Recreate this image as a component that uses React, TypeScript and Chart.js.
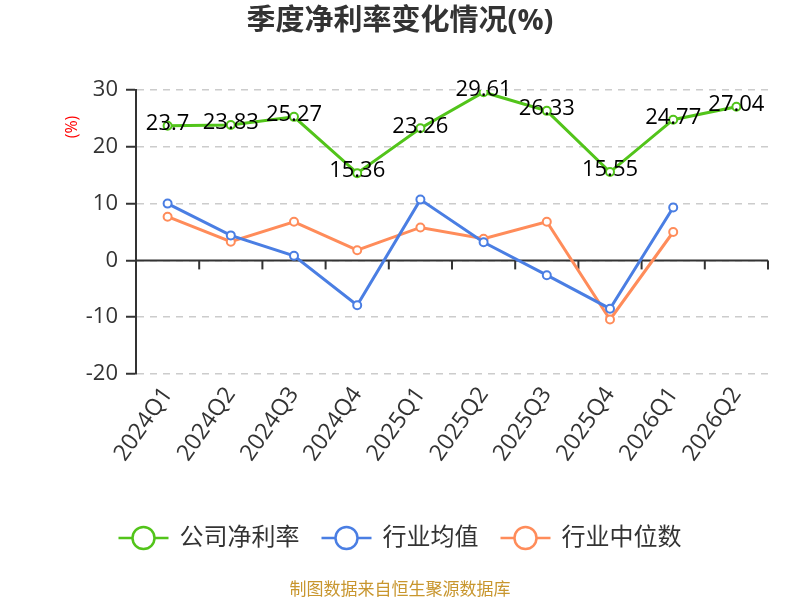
import React, { useEffect, useRef } from "react";
import { Chart, registerables } from "chart.js";

Chart.register(...registerables);

const categories = ["2024Q1", "2024Q2", "2024Q3", "2024Q4", "2025Q1", "2025Q2", "2025Q3", "2025Q4", "2026Q1", "2026Q2"];
const companyNetMargin = [23.7, 23.83, 25.27, 15.36, 23.26, 29.61, 26.33, 15.55, 24.77, 27.04];
const industryMean = [10.0, 4.4, 0.8, -7.9, 10.7, 3.2, -2.6, -8.5, 9.3, null];
const industryMedian = [7.7, 3.3, 6.8, 1.8, 5.8, 3.8, 6.8, -10.4, 5.0, null];
const seriesNames = ["公司净利率", "行业均值", "行业中位数"];
const seriesColors = ["#52c41a", "#4a7ee3", "#ff8c5a"];
const yTicks = [-20, -10, 0, 10, 20, 30];
const titleText = "季度净利率变化情况(%)";
const yTitle = "(%)";
const footerText = "制图数据来自恒生聚源数据库";

const FONT = "'Open Sans', 'Noto Sans CJK SC', sans-serif";

const customPlugin = {
  id: "customDraw",
  beforeDatasetsDraw(chart: any) {
    const { ctx, chartArea, scales } = chart;
    const x = scales.x;
    const y = scales.y;
    const y0 = y.getPixelForValue(0);
    ctx.save();
    ctx.strokeStyle = "#333";
    ctx.lineWidth = 2;
    ctx.beginPath();
    ctx.moveTo(chartArea.left, y0);
    ctx.lineTo(chartArea.right, y0);
    ctx.stroke();
    const step = x.getPixelForValue(1) - x.getPixelForValue(0);
    for (let i = 0; i < categories.length; i++) {
      const bx = x.getPixelForValue(i) + step / 2;
      ctx.beginPath();
      ctx.moveTo(bx, y0);
      ctx.lineTo(bx, y0 + 9);
      ctx.stroke();
    }
    ctx.restore();
  },
  afterDatasetsDraw(chart: any) {
    const { ctx } = chart;
    const meta = chart.getDatasetMeta(0);
    ctx.save();
    ctx.font = `22px ${FONT}`;
    ctx.fillStyle = "#000";
    ctx.textAlign = "center";
    ctx.textBaseline = "middle";
    meta.data.forEach((pt: any, i: number) => {
      ctx.fillText(String(companyNetMargin[i]), pt.x, pt.y - 2);
    });
    ctx.restore();
  },
  afterDraw(chart: any) {
    const { ctx, width } = chart;
    ctx.save();
    // title
    ctx.font = `bold 29px ${FONT}`;
    ctx.fillStyle = "#333";
    ctx.textAlign = "center";
    ctx.textBaseline = "middle";
    ctx.fillText(titleText, width / 2, 22);
    // y title
    ctx.save();
    ctx.translate(72, 127);
    ctx.rotate(-Math.PI / 2);
    ctx.font = `16px ${FONT}`;
    ctx.fillStyle = "#ff0000";
    ctx.fillText(yTitle, 0, 0);
    ctx.restore();
    // legend
    ctx.font = `24px ${FONT}`;
    const widths = seriesNames.map((n) => ctx.measureText(n).width);
    const gap = 22;
    const markW = 50;
    const markGap = 11;
    const total = widths.reduce((a, w) => a + markW + markGap + w, 0) + gap * (seriesNames.length - 1);
    let lx = width / 2 - total / 2;
    const ly = 538;
    seriesNames.forEach((name, i) => {
      ctx.strokeStyle = seriesColors[i];
      ctx.lineWidth = 2.5;
      ctx.beginPath();
      ctx.moveTo(lx, ly);
      ctx.lineTo(lx + markW, ly);
      ctx.stroke();
      ctx.beginPath();
      ctx.arc(lx + markW / 2, ly, 11, 0, Math.PI * 2);
      ctx.fillStyle = "#fff";
      ctx.fill();
      ctx.stroke();
      ctx.fillStyle = "#333";
      ctx.textAlign = "left";
      ctx.fillText(name, lx + markW + markGap, ly);
      lx += markW + markGap + widths[i] + gap;
    });
    // footer
    ctx.font = `17px ${FONT}`;
    ctx.fillStyle = "#c8962e";
    ctx.textAlign = "center";
    ctx.fillText(footerText, width / 2, 590);
    ctx.restore();
  },
};

export default function App() {
  const ref = useRef<HTMLCanvasElement>(null);
  useEffect(() => {
    if (!ref.current) return;
    const mk = (label: string, data: any[], color: string) => ({
      label,
      data,
      borderColor: color,
      backgroundColor: "#fff",
      pointBackgroundColor: "#fff",
      pointBorderColor: color,
      pointRadius: 4,
      pointBorderWidth: 2,
      borderWidth: 3,
      tension: 0,
      spanGaps: false,
    });
    const chart = new Chart(ref.current, {
      type: "line",
      data: {
        labels: categories,
        datasets: [
          mk(seriesNames[0], companyNetMargin, seriesColors[0]),
          mk(seriesNames[1], industryMean, seriesColors[1]),
          mk(seriesNames[2], industryMedian, seriesColors[2]),
        ],
      },
      options: {
        responsive: false,
        animation: false,
        devicePixelRatio: 1,
        layout: { padding: { top: 90, right: 32, bottom: 126, left: 0 } },
        plugins: {
          legend: { display: false },
          title: { display: false },
          tooltip: { enabled: false },
        },
        scales: {
          x: {
            offset: true,
            grid: { display: false },
            border: { display: false },
            ticks: {
              color: "#333",
              font: { family: FONT, size: 23 },
              minRotation: 55,
              maxRotation: 55,
              padding: 0,
              autoSkip: false,
            },
            afterFit: (s: any) => {
              s.height = 100;
            },
          },
          y: {
            min: yTicks[0],
            max: yTicks[yTicks.length - 1],
            afterBuildTicks: (s: any) => {
              s.ticks = yTicks.map((v) => ({ value: v }));
            },
            grid: {
              color: "#cccccc",
              lineWidth: 1.5,
              tickColor: "#333",
              tickLength: 10,
              tickWidth: 2,
              tickBorderDash: [],
            },
            border: { display: true, color: "#333", width: 2, dash: [7, 6] },
            ticks: {
              color: "#333",
              font: { family: FONT, size: 22 },
              padding: 8,
            },
            afterFit: (s: any) => {
              s.width = 136;
            },
          },
        },
      },
      plugins: [customPlugin],
    });
    return () => chart.destroy();
  }, []);
  return (
    <div style={{ position: "absolute", left: 0, top: 0, width: 800, height: 600, background: "#fff" }}>
      <canvas ref={ref} width={800} height={600} style={{ width: 800, height: 600, display: "block" }} />
    </div>
  );
}
